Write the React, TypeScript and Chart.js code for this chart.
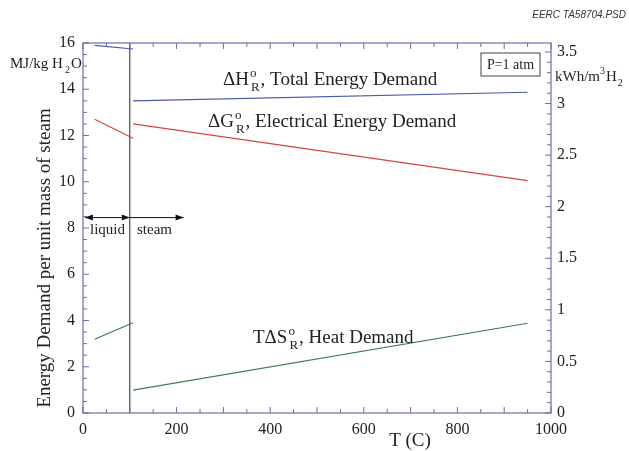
import React, { useEffect, useRef } from 'react';
import { Chart, registerables } from 'chart.js';
Chart.register(...registerables);

// Temperatures (C)
const liquidT = [25, 107];
const steamT = [107, 950];
// Energy demand (MJ/kg H2O)
const dHLiquid = [15.9, 15.74];
const dHSteam = [13.5, 13.87];
const dGLiquid = [12.7, 11.88];
const dGSteam = [12.5, 10.05];
const tdsLiquid = [3.19, 3.9];
const tdsSteam = [0.99, 3.88];
// phase boundary
const boundaryT = [100, 100];
const boundaryY = [0, 16];
// arrows (liquid / steam) in data units
const arrowY = 8.45;
const liquidArrowT = [4, 100];
const steamArrowT = [100, 215];
// axes
const xMin = 0, xMax = 1000, xStep = 50, xLabelEvery = 200;
const yMin = 0, yMax = 16, yStep = 0.5, yLabelEvery = 2;
const y2Min = 0, y2Max = 3.587, y2Step = 0.1, y2LabelEvery = 0.5;

const FRAME = '#6b6bb0';
const SERIF = '"Liberation Serif", "DejaVu Serif", serif';

const pts = (xs: number[], ys: number[]) => xs.map((x, i) => ({ x, y: ys[i] }));
const isMult = (v: number, m: number) => Math.abs(v / m - Math.round(v / m)) < 1e-6;

function drawRich(ctx: CanvasRenderingContext2D, x: number, y: number, main: string, sup: string, sub: string, rest: string, size: number) {
  ctx.font = `${size}px ${SERIF}`;
  ctx.fillText(main, x, y);
  const w = ctx.measureText(main).width;
  const small = Math.round(size * 0.68);
  ctx.font = `${small}px ${SERIF}`;
  const sx = x + w + 1;
  let ww = 0;
  if (sup) { ctx.fillText(sup, sx, y - size * 0.42); ww = Math.max(ww, ctx.measureText(sup).width); }
  if (sub) { ctx.fillText(sub, sx + 1, y + size * 0.3); ww = Math.max(ww, ctx.measureText(sub).width + 1); }
  ctx.font = `${size}px ${SERIF}`;
  ctx.fillText(rest, sx + ww + 1, y);
}

function arrowHead(ctx: CanvasRenderingContext2D, x: number, y: number, dir: number) {
  ctx.beginPath();
  ctx.moveTo(x, y);
  ctx.lineTo(x - dir * 8, y - 3);
  ctx.lineTo(x - dir * 8, y + 3);
  ctx.closePath();
  ctx.fill();
}

const decor = {
  id: 'decor',
  afterDatasetsDraw(chart: any) {
    const { ctx, chartArea: a, scales } = chart;
    const xs = scales.x, ys = scales.y, y2 = scales.y2;
    ctx.save();
    // frame
    ctx.strokeStyle = FRAME;
    ctx.lineWidth = 1.2;
    ctx.strokeRect(a.left, a.top, a.right - a.left, a.bottom - a.top);
    // ticks
    ctx.lineWidth = 1;
    ctx.beginPath();
    xs.ticks.forEach((t: any) => {
      const px = xs.getPixelForValue(t.value);
      const len = isMult(t.value, 100) ? 6 : 4;
      ctx.moveTo(px, a.bottom); ctx.lineTo(px, a.bottom - len);
      ctx.moveTo(px, a.top); ctx.lineTo(px, a.top + len);
    });
    ys.ticks.forEach((t: any) => {
      const py = ys.getPixelForValue(t.value);
      const len = isMult(t.value, yLabelEvery) ? 6 : 4;
      ctx.moveTo(a.left, py); ctx.lineTo(a.left + len, py);
    });
    y2.ticks.forEach((t: any) => {
      const py = y2.getPixelForValue(t.value);
      const len = isMult(t.value, y2LabelEvery) ? 6 : 4;
      ctx.moveTo(a.right, py); ctx.lineTo(a.right - len, py);
    });
    ctx.stroke();

    // arrows
    ctx.strokeStyle = '#111';
    ctx.fillStyle = '#111';
    ctx.lineWidth = 1;
    const ay = ys.getPixelForValue(arrowY);
    const l0 = xs.getPixelForValue(liquidArrowT[0]), l1 = xs.getPixelForValue(liquidArrowT[1]);
    const s0 = xs.getPixelForValue(steamArrowT[0]), s1 = xs.getPixelForValue(steamArrowT[1]);
    ctx.beginPath();
    ctx.moveTo(l0, ay); ctx.lineTo(l1, ay);
    ctx.moveTo(s0, ay); ctx.lineTo(s1, ay);
    ctx.stroke();
    arrowHead(ctx, l0, ay, -1);
    arrowHead(ctx, l1, ay, 1);
    arrowHead(ctx, s1, ay, 1);

    // texts
    ctx.fillStyle = '#222';
    ctx.textBaseline = 'alphabetic';
    ctx.textAlign = 'left';
    ctx.font = `15px ${SERIF}`;
    ctx.fillText('liquid', 90, 234);
    ctx.fillText('steam', 137, 234);

    drawRich(ctx, 223, 85, '\u0394H', 'o', 'R', ', Total Energy Demand', 19);
    drawRich(ctx, 208, 127, '\u0394G', 'o', 'R', ', Electrical Energy Demand', 19);
    drawRich(ctx, 253, 343, 'T\u0394S', 'o', 'R', ', Heat Demand', 19);

    // unit labels
    drawRich(ctx, 10, 68, 'MJ/kg H', '', '2', 'O', 15);
    ctx.font = `15px ${SERIF}`;
    ctx.fillText('kWh/m', 555, 81);
    const w = ctx.measureText('kWh/m').width;
    ctx.font = `10px ${SERIF}`;
    ctx.fillText('3', 555 + w, 74);
    ctx.font = `15px ${SERIF}`;
    ctx.fillText('H', 555 + w + 6, 81);
    const wh = ctx.measureText('H').width;
    ctx.font = `10px ${SERIF}`;
    ctx.fillText('2', 555 + w + 6 + wh + 1, 86);

    // P=1 atm box
    ctx.strokeStyle = '#444';
    ctx.lineWidth = 1;
    ctx.strokeRect(481, 53, 59, 23);
    ctx.font = `14px ${SERIF}`;
    ctx.textAlign = 'center';
    ctx.fillText('P=1 atm', 510.5, 69);

    // axis titles
    ctx.font = `19px ${SERIF}`;
    ctx.textAlign = 'center';
    ctx.fillText('T (C)', 410, 446);
    ctx.save();
    ctx.translate(50, 258);
    ctx.rotate(-Math.PI / 2);
    ctx.fillText('Energy Demand per unit mass of steam', 0, 0);
    ctx.restore();

    // file tag
    ctx.font = `italic 10px "Liberation Sans", Arial, sans-serif`;
    ctx.textAlign = 'right';
    ctx.fillStyle = '#333';
    ctx.fillText('EERC TA58704.PSD', 626, 18);
    ctx.restore();
  },
};

export default function App() {
  const ref = useRef<HTMLCanvasElement>(null);
  useEffect(() => {
    if (!ref.current) return;
    const line = (data: any[], color: string, width = 1.2) => ({
      data, borderColor: color, borderWidth: width, showLine: true, pointRadius: 0, fill: false, tension: 0,
    });
    const tickFont = { family: SERIF, size: 16 };
    const chart = new Chart(ref.current, {
      type: 'scatter',
      data: {
        datasets: [
          line(pts(liquidT, dHLiquid), '#4a56a6'),
          line(pts(steamT, dHSteam), '#4a56a6'),
          line(pts(liquidT, dGLiquid), '#d64545'),
          line(pts(steamT, dGSteam), '#d64545'),
          line(pts(liquidT, tdsLiquid), '#3d7d4d'),
          line(pts(steamT, tdsSteam), '#3d7d4d'),
          line(pts(boundaryT, boundaryY), '#222', 1),
        ] as any,
      },
      options: {
        animation: false,
        responsive: false,
        devicePixelRatio: 1,
        layout: { padding: { top: 43, left: 0, right: 0, bottom: 0 } },
        plugins: { legend: { display: false }, tooltip: { enabled: false } },
        scales: {
          x: {
            type: 'linear', min: xMin, max: xMax,
            grid: { display: false, drawTicks: false }, border: { display: false },
            ticks: {
              stepSize: xStep, autoSkip: false, maxRotation: 0, padding: 7, color: '#222', font: tickFont,
              callback: (v: any) => (isMult(Number(v), xLabelEvery) ? String(v) : ''),
            },
            afterFit: (s: any) => { s.height = 38; },
          },
          y: {
            type: 'linear', position: 'left', min: yMin, max: yMax,
            grid: { display: false, drawTicks: false }, border: { display: false },
            ticks: {
              stepSize: yStep, autoSkip: false, padding: 8, color: '#222', font: tickFont,
              callback: (v: any) => (isMult(Number(v), yLabelEvery) ? String(v) : ''),
            },
            afterFit: (s: any) => { s.width = 83; },
          },
          y2: {
            type: 'linear', position: 'right', min: y2Min, max: y2Max,
            grid: { display: false, drawTicks: false }, border: { display: false },
            ticks: {
              stepSize: y2Step, autoSkip: false, includeBounds: false, padding: 6, color: '#222', font: tickFont,
              callback: (v: any) => {
                const n = Number(v);
                return isMult(n, y2LabelEvery) ? String(Math.round(n * 2) / 2) : '';
              },
            },
            afterFit: (s: any) => { s.width = 78; },
          },
        },
      } as any,
      plugins: [decor],
    });
    return () => chart.destroy();
  }, []);
  return (
    <div style={{ position: 'absolute', left: 0, top: 0, width: 629, height: 451, background: '#fff' }}>
      <canvas ref={ref} width={629} height={451} style={{ display: 'block' }} />
    </div>
  );
}
